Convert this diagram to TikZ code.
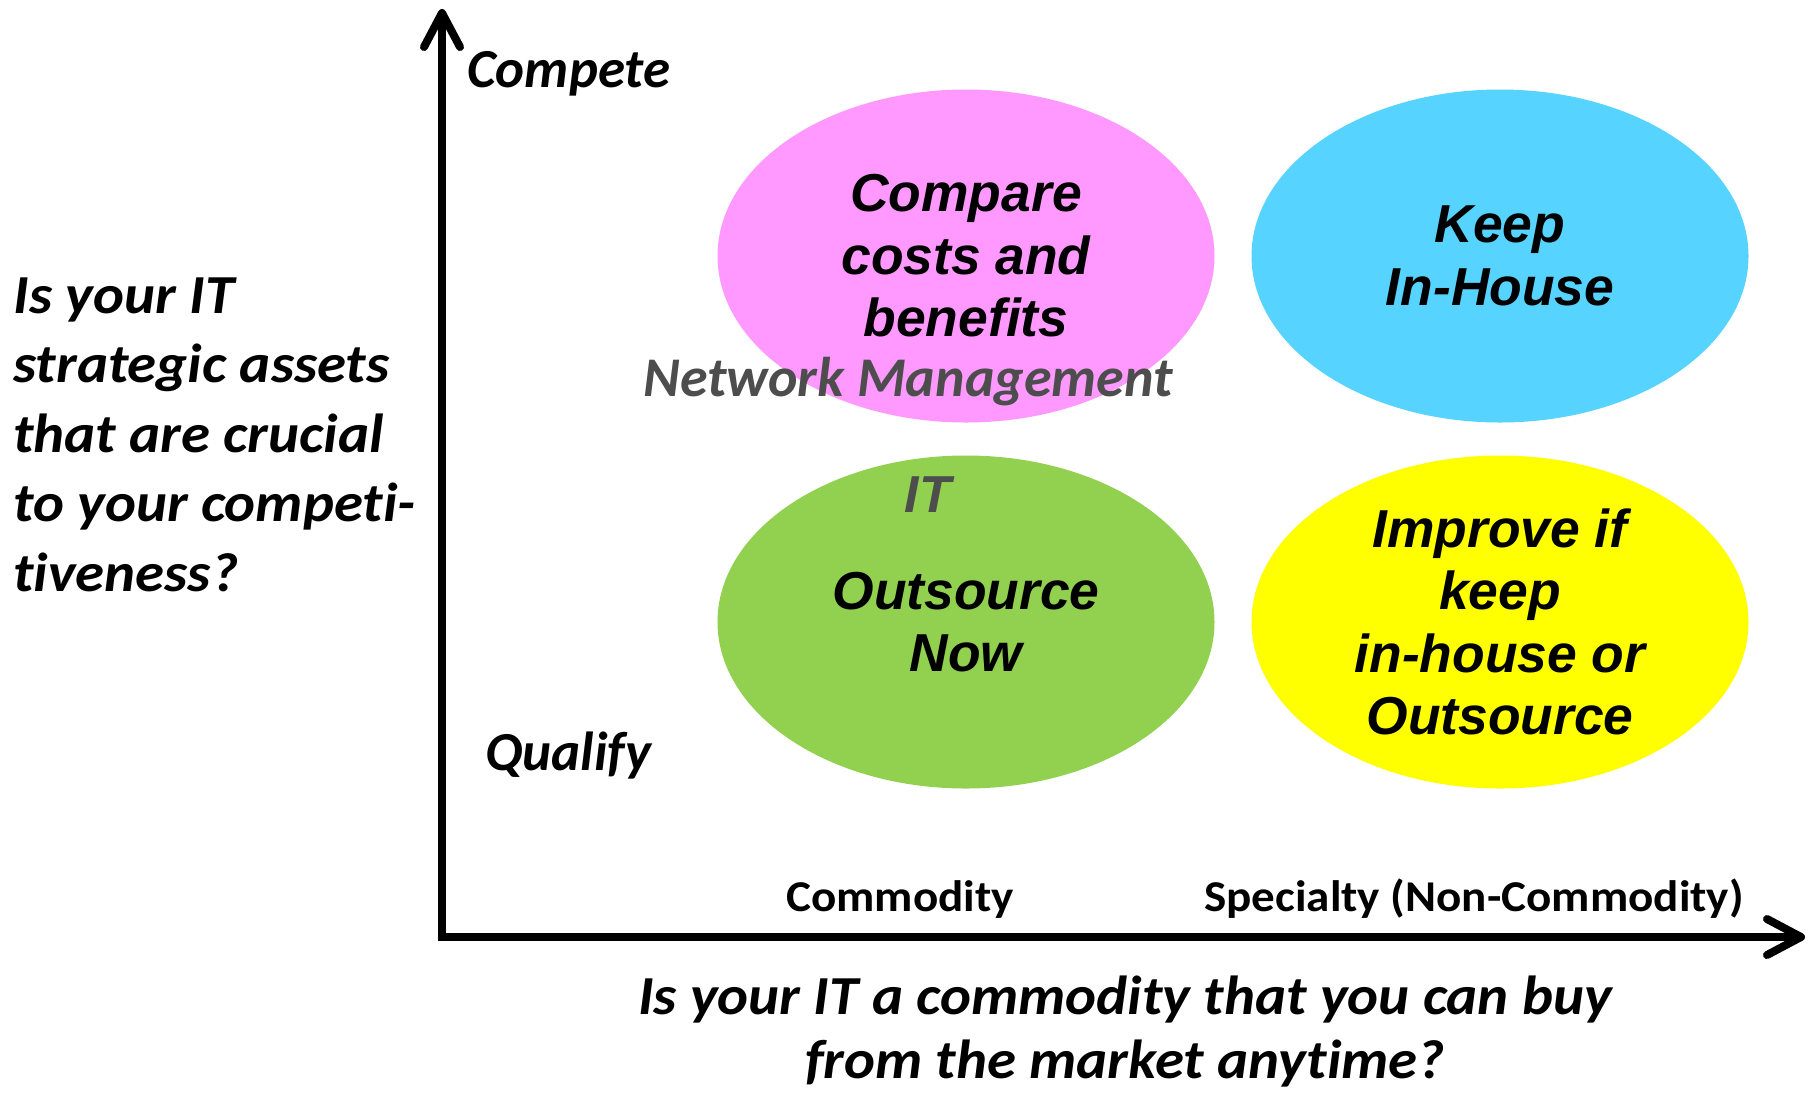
\documentclass[tikz,border=0pt]{standalone}
\usepackage{fontspec}
\usetikzlibrary{arrows.meta,shapes.geometric}
\newfontfamily\calfont[Ligatures=NoCommon]{Carlito}
\newfontfamily\calwide[Ligatures=NoCommon,FakeStretch=1.07]{Carlito}
\newfontfamily\arifont{Liberation Sans}
\definecolor{pinkfill}{HTML}{FF99FF}
\definecolor{bluefill}{HTML}{57D3FF}
\definecolor{greenfill}{HTML}{92D050}
\definecolor{yellowfill}{HTML}{FFFF00}
\definecolor{graytext}{HTML}{4D4D4D}
\begin{document}
\begin{tikzpicture}[x=0.5pt,y=-0.5pt,
  blob/.style={ellipse, minimum width=248.5pt, minimum height=166.5pt, inner sep=0pt,
    align=center, font=\arifont\bfseries\itshape\fontsize{26.7}{31.25}\selectfont},
  question/.style={inner sep=0pt, font=\calwide\bfseries\itshape\fontsize{27.5}{34.75}\selectfont},
  pole/.style={inner sep=0pt, font=\calfont\bfseries\itshape\fontsize{27.5}{33}\selectfont},
  grayword/.style={inner sep=0pt, text=graytext},
  category/.style={inner sep=0pt, font=\calwide\bfseries\fontsize{22}{26}\selectfont},
  axis/.style={line width=4pt, line join=miter,
    {Straight Barb[length=17pt,width=18pt,round]}-{Straight Barb[length=17pt,width=18pt,round]}}
]
\useasboundingbox (0,0) rectangle (1809,1093);
\fill[white] (0,0) rectangle (1809,1093);

% ellipses
\node[blob, fill=pinkfill]   (cmp)  at (966,256) {Compare\\costs and\\benefits};
\node[blob, fill=bluefill]   (keep) at (1500,256) {Keep\\In-House};
\node[blob, fill=greenfill]  (out)  at (966,622) {Outsource\\Now};
\node[blob, fill=yellowfill] (imp)  at (1500,622) {Improve if\\keep\\in-house or\\Outsource};

% gray labels
\node[grayword, anchor=base, font=\calfont\bfseries\itshape\fontsize{28}{32}\selectfont] (nm) at (908,396) {Network Management};
\node[grayword, anchor=base, font=\arifont\bfseries\itshape\fontsize{26}{30}\selectfont] (it) at (928,512) {IT};

% axes
\coordinate (ytop) at (442,9);
\coordinate (origin) at (442,937);
\coordinate (xend) at (1805,937);
\draw[axis] (ytop) -- (origin) -- (xend);

% axis labels
\node[pole, anchor=base west] (compete) at (467,87) {Compete};
\node[pole, anchor=base west] (qualify) at (485,770) {Qualify};
\node[category, anchor=base] (commodity) at (900,911) {Commodity};
\node[category, anchor=base] (specialty) at (1474,911) {Specialty (Non-Commodity)};

\node[question, anchor=base west, align=left] (yq) at (13,591)
  {Is your IT\\strategic assets\\that are crucial\\to your competi-\\tiveness?};
\node[question, anchor=base, align=center, font=\calwide\bfseries\itshape\fontsize{27.5}{32}\selectfont] (xq) at (1125,1078)
  {Is your IT a commodity that you can buy\\from the market anytime?};
\end{tikzpicture}
\end{document}
